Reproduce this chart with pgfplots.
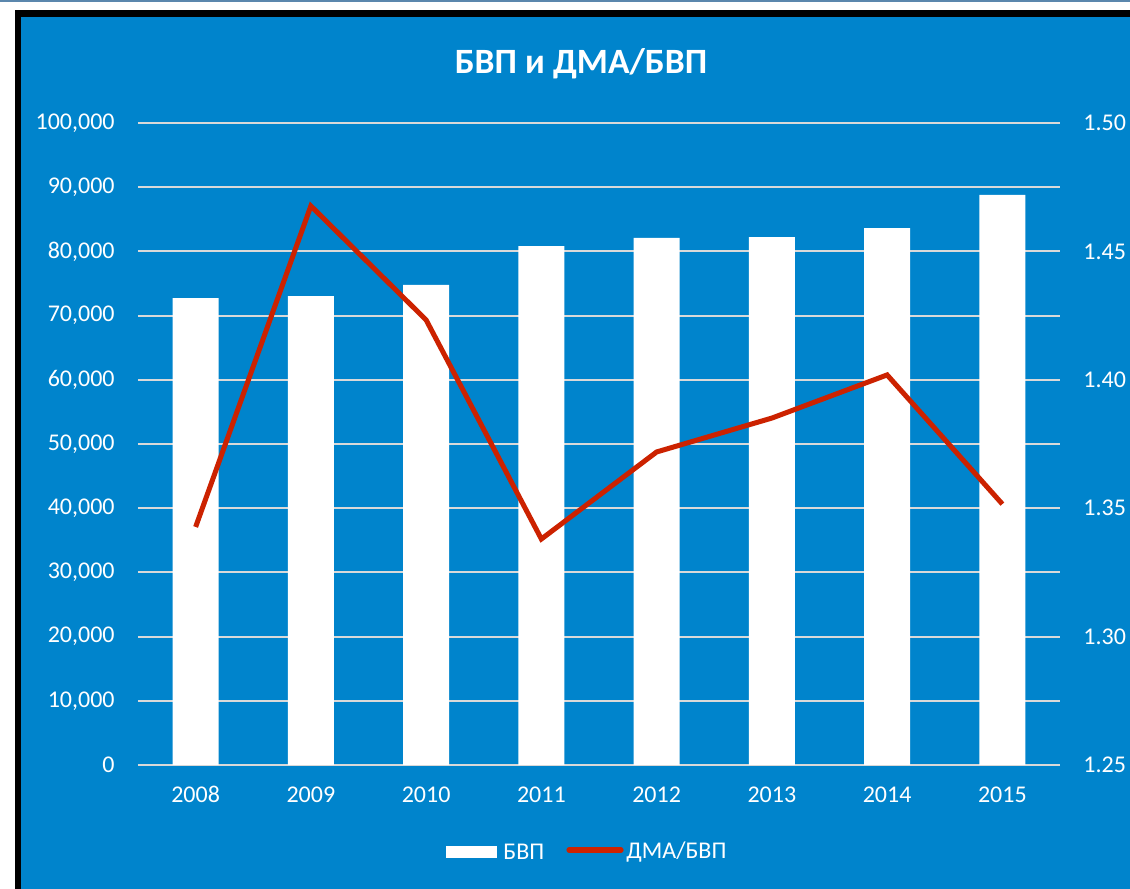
\documentclass[border=0pt]{standalone}
\usepackage{pgfplots}
\pgfplotsset{compat=1.18}
\usepackage{fontspec}
\setmainfont{Carlito}
\definecolor{bgblue}{HTML}{0084CC}
\definecolor{linered}{HTML}{CC2200}
\definecolor{gridgray}{HTML}{D9D9D9}
\definecolor{topstrip}{HTML}{5B87AD}
\begin{document}
\begin{tikzpicture}[x=1pt,y=1pt]
\useasboundingbox (0,0) rectangle (565,444.5);
\fill[white] (0,0) rectangle (565,444.5);
\fill[topstrip] (0,443.5) rectangle (565,444.5);
\fill[black] (7.5,0) rectangle (565,439.5);
\fill[bgblue] (10.5,0) rectangle (565,436);
\node[text=white,font=\fontsize{17.8}{20}\selectfont\bfseries] at (290.5,412.5) {БВП и ДМА/БВП};
\begin{axis}[
  at={(69pt,62pt)}, anchor=south west,
  scale only axis, width=461pt, height=321pt,
  xmin=-0.5, xmax=7.5, ymin=0, ymax=100000,
  axis line style={draw=none},
  axis x line*=bottom, axis y line*=left,
  major tick length=0pt,
  xtick={0,...,7},
  xticklabels={2008,2009,2010,2011,2012,2013,2014,2015},
  ytick={0,10000,...,100000},
  ymajorgrids, grid style={gridgray, line width=1pt},
  /pgf/number format/assume math mode=true,
  /pgf/number format/fixed, /pgf/number format/precision=0,
  /pgf/number format/1000 sep={,},
  scaled y ticks=false,
  ticklabel style={text=white, font=\fontsize{12}{14}\selectfont},
  yticklabel style={inner sep=0pt, xshift=-11.5pt},
  xticklabel style={inner sep=0pt, anchor=north, text height=8.5pt, text depth=0pt, yshift=-10pt},
  clip=false,
]
\addplot[ybar, bar width=23pt, fill=white, draw=none] coordinates {
(0,72740) (1,73050) (2,74770) (3,80840) (4,82090) (5,82240) (6,83640) (7,88790)};
\end{axis}
\begin{axis}[
  at={(69pt,62pt)}, anchor=south west,
  scale only axis, width=461pt, height=321pt,
  xmin=-0.5, xmax=7.5, ymin=1.25, ymax=1.5,
  axis line style={draw=none},
  axis y line*=right, axis x line=none,
  major tick length=0pt,
  ytick={1.25,1.30,...,1.51},
  /pgf/number format/assume math mode=true,
  /pgf/number format/fixed, /pgf/number format/fixed zerofill,
  /pgf/number format/precision=2,
  ticklabel style={text=white, font=\fontsize{12}{14}\selectfont},
  yticklabel style={inner sep=0pt, xshift=11.5pt},
  clip=false,
]
\addplot[linered, line width=2.5pt, line join=miter, mark=none] coordinates {
(0,1.3427) (1,1.4677) (2,1.4233) (3,1.3380) (4,1.3719) (5,1.3851) (6,1.4019) (7,1.3516)};
\end{axis}
% legend
\begin{scope}[font=\fontsize{12}{14}\selectfont]
\fill[white] (223,18.5-3) rectangle (248.5,18.5+3);
\node[text=white, anchor=west, inner sep=0pt] at (251.5,18.5) {БВП};
\draw[linered, line width=2.6pt, line cap=round] (284.5,19.5) -- (310.5,19.5);
\node[text=white, anchor=west, inner sep=0pt] at (313,18.5) {ДМА/БВП};
\end{scope}
\end{tikzpicture}
\end{document}
